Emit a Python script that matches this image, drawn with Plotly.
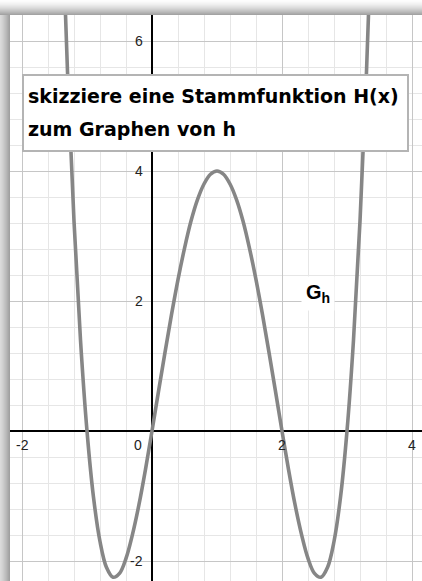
import plotly.graph_objects as go

# ---- data ----
x_vals = [-1.4, -1.3, -1.2, -1.1, -1.0, -0.9, -0.8, -0.7, -0.6, -0.5, -0.4, -0.3, -0.2, -0.1,
          0.0, 0.1, 0.2, 0.3, 0.4, 0.5, 0.6, 0.7, 0.8, 0.9, 1.0, 1.1, 1.2, 1.3, 1.4, 1.5,
          1.6, 1.7, 1.8, 1.9, 2.0, 2.1, 2.2, 2.3, 2.4, 2.5, 2.6, 2.7, 2.8, 2.9, 3.0, 3.1,
          3.2, 3.3, 3.4]
h_vals = [8.38, 5.53, 3.23, 1.40, 0.00, -1.02, -1.70, -2.10, -2.25, -2.19, -1.96, -1.59, -1.13, -0.59,
          0.00, 0.61, 1.21, 1.79, 2.33, 2.81, 3.23, 3.56, 3.80, 3.95, 4.00, 3.95, 3.80, 3.56, 3.23, 2.81,
          2.33, 1.79, 1.21, 0.61, 0.00, -0.59, -1.13, -1.59, -1.96, -2.19, -2.25, -2.10, -1.70, -1.02,
          0.00, 1.40, 3.23, 5.53, 8.38]
x_tick_vals = [-2, 2, 4]
x_tick_text = ["-2", "2", "4"]
y_tick_vals = [6, 4, 2, -2]
y_tick_text = ["6", "4", "2", "-2"]
origin_label = "0"
title_lines = ["skizziere eine Stammfunktion H(x)", "zum Graphen von h"]
curve_label = "G<sub>h</sub>"

# ---- geometry ----
W, H = 422, 581
ML, MT = 10, 15
PW, PH = W - ML, H - MT
X0PX, Y0PX, SC = 152, 431, 65.0


def px(p):
    return (p - ML) / PW


def py(p):
    return (H - p) / PH


fig = go.Figure()
fig.add_trace(go.Scatter(x=x_vals, y=h_vals, mode="lines",
                         line=dict(color="#868686", width=3.6, shape="spline", smoothing=1.0),
                         hoverinfo="skip", showlegend=False))

shapes = []
# top shadow
for i in range(MT):
    t = (i + 1) / MT
    v = int(255 - 92 * t ** 1.6)
    shapes.append(dict(type="rect", xref="paper", yref="paper", x0=px(0), x1=px(W),
                       y0=py(i + 1), y1=py(i), fillcolor=f"rgb({v},{v},{v})",
                       line=dict(width=0), layer="above"))
# left shadow
for i in range(ML):
    t = (i + 1) / ML
    v = int(222 - 62 * t ** 1.3)
    shapes.append(dict(type="rect", xref="paper", yref="paper", x0=px(i), x1=px(i + 1),
                       y0=py(H), y1=py(MT), fillcolor=f"rgb({v},{v},{v})",
                       line=dict(width=0), layer="above"))
# text box
shapes.append(dict(type="rect", xref="paper", yref="paper", x0=px(23), x1=px(408),
                   y0=py(151), y1=py(75), fillcolor="white",
                   line=dict(color="#b4b4b4", width=2), layer="above"))

annotations = []
tick_font = dict(family="Liberation Sans, Arial, sans-serif", size=14, color="#222222")
for v, t in zip(x_tick_vals, x_tick_text):
    annotations.append(dict(x=v, y=-0.215, xref="x", yref="y", text=t, showarrow=False,
                            xanchor="center", yanchor="middle", font=tick_font))
for v, t in zip(y_tick_vals, y_tick_text):
    annotations.append(dict(x=-0.115, y=v, xref="x", yref="y", text=t, showarrow=False,
                            xanchor="right", yanchor="middle", font=tick_font))
annotations.append(dict(x=-0.215, y=-0.215, xref="x", yref="y", text=origin_label,
                        showarrow=False, xanchor="center", yanchor="middle", font=tick_font))

title_font = dict(family="DejaVu Sans, sans-serif", size=19, color="black")
for i, line in enumerate(title_lines):
    annotations.append(dict(x=px(26), y=py(96 + 33 * i), xref="paper", yref="paper",
                            text=f"<b>{line}</b>", showarrow=False, xanchor="left",
                            yanchor="middle", font=title_font))

annotations.append(dict(x=2.56, y=2.12, xref="x", yref="y", text=f"<b>{curve_label}</b>",
                        showarrow=False, xanchor="center", yanchor="middle",
                        bgcolor="white", borderpad=4,
                        font=dict(family="Liberation Sans, Arial, sans-serif", size=20,
                                  color="black")))

axis_common = dict(showticklabels=False, ticks="", showline=False, zeroline=True,
                   zerolinecolor="black", zerolinewidth=1.5, showgrid=True,
                   gridcolor="#c6c6c6", gridwidth=1, dtick=2, tick0=0)

fig.update_layout(
    width=W, height=H,
    margin=dict(l=ML, r=0, t=MT, b=0),
    paper_bgcolor="white", plot_bgcolor="white",
    xaxis=dict(range=[(ML - X0PX) / SC, (W - X0PX) / SC],
               minor=dict(dtick=0.4, tick0=0, showgrid=True, gridcolor="#e6e6e6", gridwidth=1),
               **axis_common),
    yaxis=dict(range=[(Y0PX - H) / SC, (Y0PX - MT) / SC],
               minor=dict(dtick=0.4, tick0=0, showgrid=True, gridcolor="#e6e6e6", gridwidth=1),
               **axis_common),
    shapes=shapes,
    annotations=annotations,
    showlegend=False,
)

fig.write_html("out.html", config={"displayModeBar": False},
               post_script="document.body.style.margin='0';document.body.style.padding='0';"
                           "document.body.style.overflow='hidden';")
